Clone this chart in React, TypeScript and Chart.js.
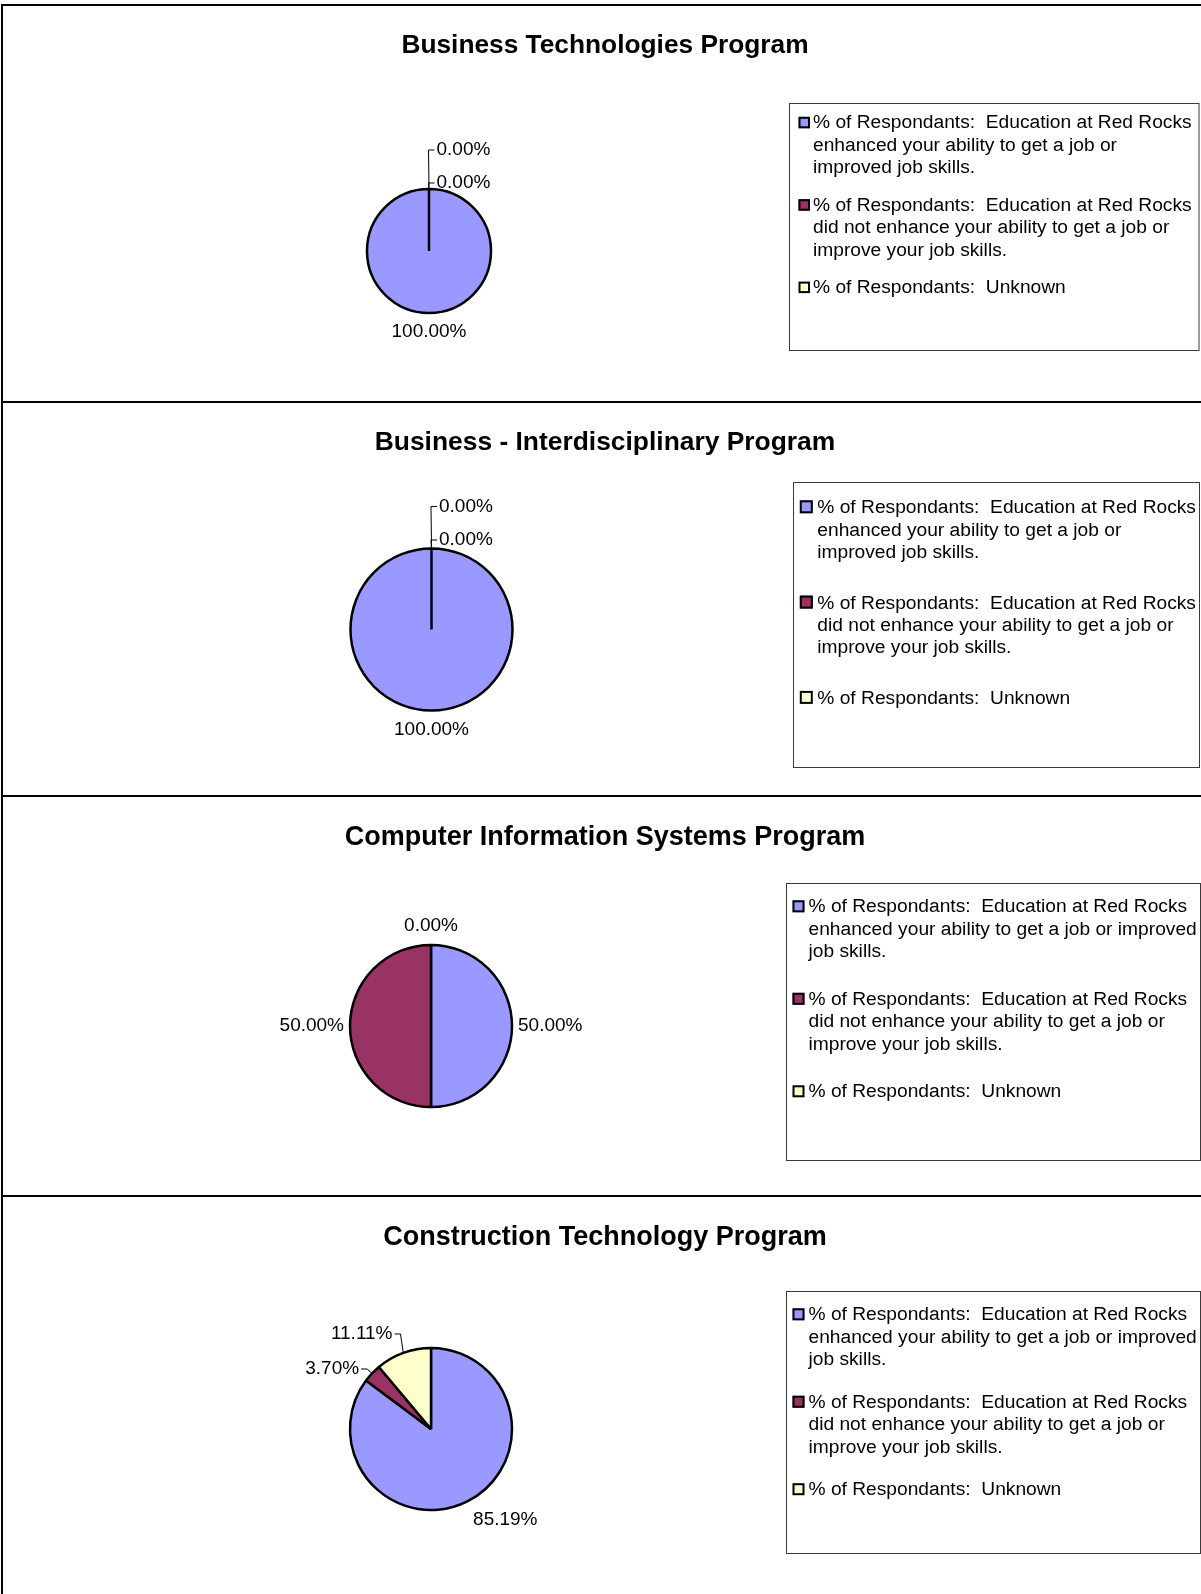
import { useEffect, useRef } from 'react';
import { Chart, registerables } from 'chart.js';

Chart.register(...registerables);

// ---------- data ----------
const categories = [
  '% of Respondants:  Education at Red Rocks enhanced your ability to get a job or improved job skills.',
  '% of Respondants:  Education at Red Rocks did not enhance your ability to get a job or improve your job skills.',
  '% of Respondants:  Unknown',
];

const programTitles = [
  'Business Technologies Program',
  'Business - Interdisciplinary Program',
  'Computer Information Systems Program',
  'Construction Technology Program',
];

const businessTechnologiesValues = [100, 0, 0];
const businessInterdisciplinaryValues = [100, 0, 0];
const computerInformationSystemsValues = [50, 50, 0];
const constructionTechnologyValues = [85.19, 3.7, 11.11];

const sliceColors = ['#9999FF', '#993366', '#FFFFCC'];

// ---------- layout (page coordinates) ----------
type LabelSpec =
  | { kind: 'auto'; dx?: number; dy?: number }
  | { kind: 'leader'; dx: number; dy: number; align: 'left' | 'right' };

interface PanelLayout {
  top: number;
  height: number;
  cx: number;
  cy: number;
  r: number;
  titleY: number;
  titleSize: number;
  box: [number, number, number, number];
  textX: number;
  baseline: number;
  lineH: number;
  step: number;
  wrap: number;
  swatch: number;
  swatchGap: number;
  labels: LabelSpec[];
}

const PAGE_W = 1201;
const TITLE_X = 605;
const FONT_FAMILY = '"Liberation Sans", Arial, sans-serif';
const LEGEND_FONT = '19.2px ' + FONT_FAMILY;
const LABEL_FONT = '19px ' + FONT_FAMILY;

const layouts: PanelLayout[] = [
  {
    top: 5, height: 397, cx: 429, cy: 251, r: 62, titleY: 46, titleSize: 26.3,
    box: [789.5, 103.5, 1199, 350.5], textX: 813, baseline: 128.3, lineH: 22.4, step: 82.4,
    wrap: 384, swatch: 11.5, swatchGap: 3,
    labels: [
      { kind: 'auto' },
      { kind: 'leader', dx: 7.5, dy: -6, align: 'left' },
      { kind: 'leader', dx: 7.5, dy: -39, align: 'left' },
    ],
  },
  {
    top: 402, height: 394, cx: 431.5, cy: 629.5, r: 81, titleY: 443, titleSize: 26.4,
    box: [793.5, 482.5, 1199.5, 767.5], textX: 817.3, baseline: 513.3, lineH: 22.4, step: 95.3,
    wrap: 384, swatch: 13, swatchGap: 4.5,
    labels: [
      { kind: 'auto' },
      { kind: 'leader', dx: 7.5, dy: -8.5, align: 'left' },
      { kind: 'leader', dx: 7.5, dy: -42, align: 'left' },
    ],
  },
  {
    top: 796, height: 400, cx: 431, cy: 1026, r: 81, titleY: 838, titleSize: 27,
    box: [786.5, 883.5, 1200.5, 1160.5], textX: 808.5, baseline: 912.3, lineH: 22.4, step: 92.5,
    wrap: 395, swatch: 12, swatchGap: 4,
    labels: [{ kind: 'auto' }, { kind: 'auto' }, { kind: 'auto' }],
  },
  {
    top: 1196, height: 398, cx: 431, cy: 1429, r: 81, titleY: 1237.5, titleSize: 27,
    box: [786.5, 1291.5, 1200.5, 1553.5], textX: 808.5, baseline: 1320.3, lineH: 22.4, step: 87.45,
    wrap: 395, swatch: 12, swatchGap: 4,
    labels: [
      { kind: 'auto', dx: 5, dy: 0 },
      { kind: 'leader', dx: -13, dy: -4.4, align: 'right' },
      { kind: 'leader', dx: -10.8, dy: -18.9, align: 'right' },
    ],
  },
];

const panelValues = [
  businessTechnologiesValues,
  businessInterdisciplinaryValues,
  computerInformationSystemsValues,
  constructionTechnologyValues,
];

function wrapText(ctx: CanvasRenderingContext2D, text: string, maxW: number): string[] {
  const words = text.split(' ');
  const lines: string[] = [];
  let line = '';
  for (const w of words) {
    const test = line === '' ? w : line + ' ' + w;
    if (line !== '' && w !== '' && ctx.measureText(test).width > maxW) {
      lines.push(line.trimEnd());
      line = w;
    } else {
      line = test;
    }
  }
  if (line) lines.push(line);
  return lines;
}

function makePanelPlugin(idx: number) {
  const L = layouts[idx];
  const values = panelValues[idx];
  return {
    id: 'panelDecor' + idx,
    afterDraw(chart: any) {
      const ctx: CanvasRenderingContext2D = chart.ctx;
      const oy = L.top;
      ctx.save();
      // title
      ctx.fillStyle = '#000';
      ctx.font = 'bold ' + L.titleSize + 'px ' + FONT_FAMILY;
      ctx.textAlign = 'center';
      ctx.textBaseline = 'middle';
      ctx.fillText(programTitles[idx], TITLE_X, L.titleY - oy);

      // legend box
      const [x1, y1, x2, y2] = L.box;
      ctx.strokeStyle = '#3a3a3a';
      ctx.lineWidth = 1;
      ctx.strokeRect(x1, y1 - oy, x2 - x1, y2 - y1);

      ctx.font = LEGEND_FONT;
      ctx.textAlign = 'left';
      ctx.textBaseline = 'alphabetic';
      categories.forEach((cat, i) => {
        const base = L.baseline + i * L.step - oy;
        const s = L.swatch;
        const sx = L.textX - L.swatchGap - s;
        const sy = base - s;
        ctx.fillStyle = sliceColors[i];
        ctx.fillRect(sx, sy, s, s);
        ctx.strokeStyle = '#000';
        ctx.lineWidth = 2;
        ctx.strokeRect(sx + 1, sy + 1, s - 2, s - 2);
        ctx.fillStyle = '#000';
        const lines = wrapText(ctx, cat, L.wrap);
        lines.forEach((ln, j) => {
          ctx.fillText(ln, L.textX, base + j * L.lineH);
        });
      });

      // data labels
      const meta = chart.getDatasetMeta(0);
      ctx.font = LABEL_FONT;
      ctx.fillStyle = '#000';
      ctx.strokeStyle = '#000';
      ctx.lineWidth = 1;
      ctx.textBaseline = 'middle';
      meta.data.forEach((el: any, i: number) => {
        const mid = (el.startAngle + el.endAngle) / 2;
        const ca = Math.cos(mid);
        const sa = Math.sin(mid);
        const text = values[i].toFixed(2) + '%';
        const tw = ctx.measureText(text).width;
        const spec = L.labels[i];
        if (spec.kind === 'auto') {
          const g = 3, padX = 3, hh = 16;
          const ax = el.x + (el.outerRadius + g) * ca;
          const ay = el.y + (el.outerRadius + g) * sa;
          const fx = Math.max(-1, Math.min(1, ca * 2));
          const fy = Math.max(-1, Math.min(1, sa * 2));
          const lx = ax + fx * (tw / 2 + padX) + (spec.dx || 0);
          const ly = ay + fy * hh + (spec.dy || 0);
          ctx.textAlign = 'center';
          ctx.fillText(text, lx, ly);
        } else {
          const ax = el.x + el.outerRadius * ca;
          const ay = el.y + el.outerRadius * sa;
          const rx = ax + spec.dx;
          const ry = ay + spec.dy;
          const dir = spec.align === 'left' ? -1 : 1;
          ctx.beginPath();
          ctx.moveTo(ax, ay);
          ctx.lineTo(rx + dir * 8, ry);
          ctx.lineTo(rx + dir * 2, ry);
          ctx.stroke();
          ctx.textAlign = spec.align;
          ctx.fillText(text, rx, ry);
        }
      });
      ctx.restore();
    },
  };
}

function PiePanel({ idx }: { idx: number }) {
  const ref = useRef<HTMLCanvasElement | null>(null);
  const L = layouts[idx];
  useEffect(() => {
    if (!ref.current) return;
    const cyLocal = L.cy - L.top;
    const R0 = L.r + 1.25;
    const chart = new Chart(ref.current, {
      type: 'pie',
      data: {
        labels: categories,
        datasets: [
          {
            data: panelValues[idx],
            backgroundColor: sliceColors,
            borderColor: '#000',
            borderWidth: 2.5,
            radius: L.r,
          } as any,
        ],
      },
      options: {
        responsive: false,
        animation: false,
        events: [],
        layout: {
          padding: {
            left: L.cx - R0,
            right: PAGE_W - L.cx - R0,
            top: cyLocal - R0,
            bottom: L.height - cyLocal - R0,
          },
        },
        plugins: {
          legend: { display: false },
          tooltip: { enabled: false },
          title: { display: false },
        },
      },
      plugins: [makePanelPlugin(idx)],
    });
    return () => chart.destroy();
  }, [idx]);
  return (
    <canvas
      ref={ref}
      width={PAGE_W}
      height={L.height}
      style={{ position: 'absolute', left: 0, top: L.top, width: PAGE_W, height: L.height, display: 'block' }}
    />
  );
}

export default function App() {
  return (
    <div
      style={{
        position: 'absolute',
        left: 0,
        top: 0,
        width: PAGE_W,
        height: 1594,
        overflow: 'hidden',
        background: '#fff',
      }}
    >
      {layouts.map((L, i) => (
        <PiePanel key={'c' + i} idx={i} />
      ))}
      {layouts.map((L, i) => (
        <div
          key={'b' + i}
          style={{
            position: 'absolute',
            left: 1,
            top: L.top - 1,
            width: 1260,
            height: L.height + 1,
            borderTop: '2px solid #000',
            borderLeft: '2px solid #000',
            boxSizing: 'border-box',
            pointerEvents: 'none',
          }}
        />
      ))}
    </div>
  );
}
